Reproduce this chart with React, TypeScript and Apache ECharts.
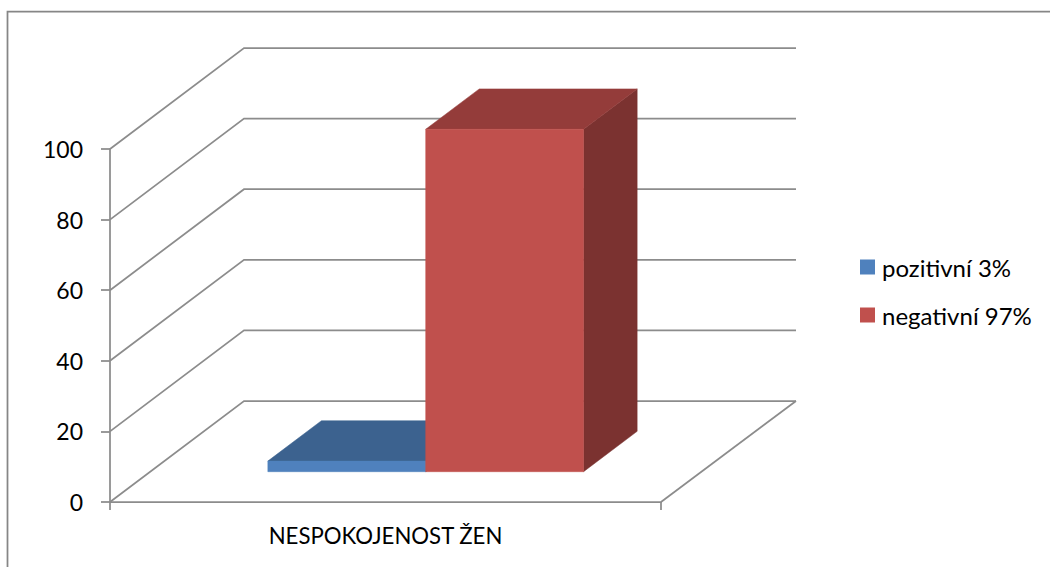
import React, { useEffect, useRef } from "react";
import * as echarts from "echarts";

// Chart data
const categories = ["NESPOKOJENOST ŽEN"];
const seriesNames = ["pozitivní 3%", "negativní 97%"];
const positiveValues = [3];
const negativeValues = [97];
const gridValues = [0, 20, 40, 60, 80, 100];

// Oblique projection of the depth axis, in pixels
const DEPTH_X = 134;
const DEPTH_Y = 101;
// Where the bars sit along the depth axis (fractions of the floor depth)
const BAR_NEAR = 0.3;
const BAR_FAR = 0.7;
const BAR_WIDTH_RATIO = 0.2865;

const LINE_COLOR = "#8c8c8c";
const LINE_WIDTH = 1.75;
const FONT = "Lato, Carlito, sans-serif";

const poly = (points: number[][], fill: string) => ({
  type: "polygon",
  shape: { points },
  style: { fill, stroke: fill, lineWidth: 0.5 },
});

// Draws one oblique box: back faces first, front face last
const boxRenderer =
  (seriesSlot: number, front: string, top: string, side: string) =>
  (_params: any, api: any) => {
    const cat = api.value(0);
    const base = api.coord([cat, 0]);
    const head = api.coord([cat, api.value(1)]);
    const band = api.size([1, 0])[0];
    const w = band * BAR_WIDTH_RATIO;
    const nearX = DEPTH_X * BAR_NEAR;
    const nearY = DEPTH_Y * BAR_NEAR;
    const dx = DEPTH_X * (BAR_FAR - BAR_NEAR);
    const dy = DEPTH_Y * (BAR_FAR - BAR_NEAR);
    const x0 = base[0] + nearX + (seriesSlot - 1) * w;
    const x1 = x0 + w;
    const yBottom = base[1] - nearY;
    const yTop = head[1] - nearY;
    return {
      type: "group",
      children: [
        poly(
          [
            [x1, yTop],
            [x1 + dx, yTop - dy],
            [x1 + dx, yBottom - dy],
            [x1, yBottom],
          ],
          side,
        ),
        poly(
          [
            [x0, yTop],
            [x0 + dx, yTop - dy],
            [x1 + dx, yTop - dy],
            [x1, yTop],
          ],
          top,
        ),
        poly(
          [
            [x0, yTop],
            [x1, yTop],
            [x1, yBottom],
            [x0, yBottom],
          ],
          front,
        ),
      ],
    };
  };

// Wall and floor lines: a diagonal on the side wall, then a run along the back wall
const gridRenderer = (_params: any, api: any) => {
  const value = api.value(1);
  const center = api.coord([0, value]);
  const band = api.size([1, 0])[0];
  const leftX = center[0] - band / 2;
  const y = center[1];
  const lineStyle = { stroke: LINE_COLOR, lineWidth: LINE_WIDTH, fill: "none" };
  const children: any[] = [
    {
      type: "polyline",
      shape: {
        points: [
          [leftX, y],
          [leftX + DEPTH_X, y - DEPTH_Y],
          [leftX + DEPTH_X + band + 1, y - DEPTH_Y],
        ],
      },
      style: lineStyle,
    },
  ];
  if (value === 0) {
    children.push({
      type: "line",
      shape: {
        x1: leftX + band,
        y1: y,
        x2: leftX + band + DEPTH_X + 1,
        y2: y - DEPTH_Y,
      },
      style: lineStyle,
    });
  }
  return { type: "group", children };
};

export default function App() {
  const ref = useRef<HTMLDivElement>(null);

  useEffect(() => {
    document.body.style.margin = "0";
    const chart = echarts.init(ref.current!, null, { renderer: "svg" });
    chart.setOption({
      animation: false,
      backgroundColor: "#ffffff",
      textStyle: { fontFamily: FONT },
      grid: { left: 110, top: 149, width: 551, height: 353, containLabel: false },
      xAxis: {
        type: "category",
        data: categories,
        axisLine: { lineStyle: { color: LINE_COLOR, width: LINE_WIDTH } },
        axisTick: { show: true, length: 8, lineStyle: { color: LINE_COLOR, width: LINE_WIDTH } },
        axisLabel: { color: "#000000", fontSize: 22.2, fontFamily: FONT, margin: 22 },
      },
      yAxis: {
        type: "value",
        min: 0,
        max: 100,
        interval: 20,
        splitLine: { show: false },
        axisLine: { show: true, lineStyle: { color: LINE_COLOR, width: LINE_WIDTH } },
        axisTick: { show: true, length: 9, lineStyle: { color: LINE_COLOR, width: LINE_WIDTH } },
        axisLabel: { color: "#000000", fontSize: 23, fontFamily: FONT, margin: 27 },
      },
      legend: {
        orient: "vertical",
        left: 860,
        top: 255,
        padding: 0,
        itemWidth: 15,
        itemHeight: 15,
        itemGap: 24,
        icon: "rect",
        data: seriesNames,
        selectedMode: false,
        textStyle: { color: "#000000", fontSize: 24, fontFamily: FONT, padding: [0, 0, 0, 2] },
      },
      graphic: [
        {
          type: "rect",
          silent: true,
          shape: { x: 7.5, y: 11.5, width: 1100, height: 620 },
          style: { fill: "none", stroke: "#868686", lineWidth: LINE_WIDTH },
        },
      ],
      series: [
        {
          type: "custom",
          name: "grid",
          silent: true,
          z: 1,
          clip: false,
          renderItem: gridRenderer,
          data: gridValues.map((v) => [0, v]),
        },
        {
          type: "custom",
          name: seriesNames[0],
          z: 2,
          clip: false,
          itemStyle: { color: "#4f81bd" },
          renderItem: boxRenderer(0, "#4f81bd", "#3c628f", "#2f4e73"),
          data: positiveValues.map((v, i) => [i, v]),
        },
        {
          type: "custom",
          name: seriesNames[1],
          z: 3,
          clip: false,
          itemStyle: { color: "#c0504d" },
          renderItem: boxRenderer(1, "#c0504d", "#943c3a", "#7b3230"),
          data: negativeValues.map((v, i) => [i, v]),
        },
      ],
    });
    return () => chart.dispose();
  }, []);

  return <div ref={ref} style={{ position: "absolute", left: 0, top: 0, width: 1050, height: 567 }} />;
}
